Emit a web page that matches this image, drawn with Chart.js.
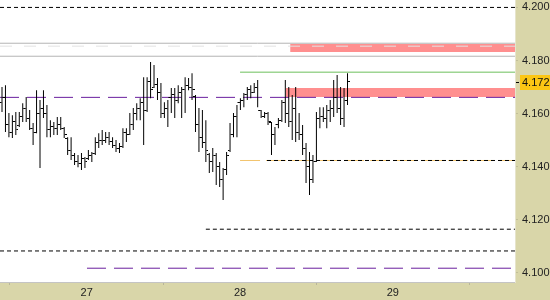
<!DOCTYPE html>
<html>
<head>
<meta charset="utf-8">
<script src="https://cdn.jsdelivr.net/npm/chart.js@4.4.1/dist/chart.umd.min.js"></script>
<style>
  html, body { margin: 0; padding: 0; background: #d9d6a9; }
  #wrap { width: 550px; height: 300px; }
</style>
</head>
<body>
<div id="wrap"><canvas id="chart" width="550" height="300"></canvas></div>
<script>
// ---- bar data (one bar per slot, index = slot) ----
const highs = [4.1700, 4.1707, 4.1602, 4.1594, 4.1606, 4.1606, 4.1639, 4.1662, 4.1613, 4.1564,
               4.1688, 4.1651, 4.1688, 4.1632, 4.1575, 4.1568, 4.1587, 4.1587, 4.1549, 4.1511,
               4.1511, 4.1451, 4.1444, 4.1451, 4.1436, 4.1463, 4.1455, 4.1511, 4.1526, 4.1538,
               4.1530, 4.1530, 4.1511, 4.1500, 4.1489, 4.1545, 4.1545, 4.1602, 4.1621, 4.1639,
               4.1658, 4.1737, 4.1737, 4.1794, 4.1783, 4.1734, 4.1715, 4.1643, 4.1651, 4.1696,
               4.1696, 4.1707, 4.1700, 4.1737, 4.1734, 4.1752, 4.1670, 4.1621, 4.1613, 4.1575,
               4.1451, 4.1470, 4.1451, 4.1417, 4.1395, 4.1455, 4.1564, 4.1602, 4.1632, 4.1658,
               4.1677, 4.1700, 4.1707, 4.1715, 4.1726, 4.1613, 4.1606, 4.1606, 4.1568, 4.1549,
               4.1583, 4.1651, 4.1726, 4.1700, 4.1670, 4.1700, 4.1602, 4.1557, 4.1489, 4.1455,
               4.1444, 4.1606, 4.1624, 4.1624, 4.1632, 4.1651, 4.1726, 4.1745, 4.1700, 4.1696,
               4.1752];
const lows  = [4.1606, 4.1530, 4.1511, 4.1508, 4.1519, 4.1549, 4.1568, 4.1568, 4.1538, 4.1481,
               4.1526, 4.1395, 4.1583, 4.1511, 4.1511, 4.1519, 4.1519, 4.1538, 4.1508, 4.1444,
               4.1425, 4.1406, 4.1398, 4.1387, 4.1395, 4.1425, 4.1417, 4.1444, 4.1470, 4.1481,
               4.1489, 4.1481, 4.1470, 4.1455, 4.1451, 4.1470, 4.1493, 4.1519, 4.1538, 4.1575,
               4.1575, 4.1481, 4.1606, 4.1658, 4.1696, 4.1651, 4.1583, 4.1583, 4.1549, 4.1602,
               4.1583, 4.1639, 4.1583, 4.1602, 4.1688, 4.1651, 4.1530, 4.1455, 4.1470, 4.1417,
               4.1376, 4.1380, 4.1331, 4.1323, 4.1274, 4.1368, 4.1455, 4.1511, 4.1511, 4.1613,
               4.1624, 4.1651, 4.1658, 4.1677, 4.1624, 4.1583, 4.1583, 4.1557, 4.1444, 4.1481,
               4.1545, 4.1568, 4.1564, 4.1549, 4.1500, 4.1493, 4.1500, 4.1444, 4.1338, 4.1293,
               4.1338, 4.1417, 4.1545, 4.1568, 4.1545, 4.1568, 4.1587, 4.1602, 4.1557, 4.1549,
               4.1632];
const opens = [4.1640, 4.1660, 4.1560, 4.1530, 4.1570, 4.1555, 4.1590, 4.1620, 4.1580, 4.1545,
               4.1530, 4.1600, 4.1620, 4.1600, 4.1540, 4.1550, 4.1545, 4.1560, 4.1545, 4.1505,
               4.1460, 4.1440, 4.1420, 4.1410, 4.1430, 4.1430, 4.1440, 4.1450, 4.1490, 4.1500,
               4.1500, 4.1510, 4.1495, 4.1480, 4.1470, 4.1475, 4.1530, 4.1520, 4.1560, 4.1600,
               4.1620, 4.1640, 4.1610, 4.1720, 4.1700, 4.1710, 4.1680, 4.1600, 4.1620, 4.1660,
               4.1670, 4.1650, 4.1680, 4.1690, 4.1705, 4.1700, 4.1665, 4.1560, 4.1510, 4.1490,
               4.1445, 4.1420, 4.1440, 4.1400, 4.1350, 4.1390, 4.1460, 4.1520, 4.1590, 4.1640,
               4.1650, 4.1670, 4.1690, 4.1680, 4.1700, 4.1610, 4.1590, 4.1600, 4.1565, 4.1520,
               4.1560, 4.1575, 4.1640, 4.1600, 4.1570, 4.1620, 4.1530, 4.1520, 4.1470, 4.1400,
               4.1350, 4.1420, 4.1580, 4.1590, 4.1580, 4.1610, 4.1620, 4.1660, 4.1620, 4.1580,
               4.1650];
const closes = [4.1660, 4.1560, 4.1530, 4.1570, 4.1540, 4.1590, 4.1620, 4.1580, 4.1545, 4.1530,
                4.1600, 4.1620, 4.1600, 4.1540, 4.1550, 4.1545, 4.1560, 4.1545, 4.1520, 4.1460,
                4.1440, 4.1420, 4.1410, 4.1430, 4.1420, 4.1440, 4.1450, 4.1490, 4.1500, 4.1500,
                4.1510, 4.1495, 4.1480, 4.1470, 4.1475, 4.1530, 4.1520, 4.1560, 4.1600, 4.1620,
                4.1640, 4.1610, 4.1720, 4.1690, 4.1710, 4.1680, 4.1600, 4.1620, 4.1660, 4.1670,
                4.1650, 4.1680, 4.1690, 4.1705, 4.1700, 4.1690, 4.1560, 4.1510, 4.1490, 4.1460,
                4.1420, 4.1440, 4.1400, 4.1350, 4.1390, 4.1440, 4.1520, 4.1590, 4.1640, 4.1650,
                4.1670, 4.1690, 4.1680, 4.1700, 4.1610, 4.1590, 4.1600, 4.1570, 4.1520, 4.1560,
                4.1575, 4.1640, 4.1600, 4.1570, 4.1620, 4.1530, 4.1520, 4.1470, 4.1400, 4.1350,
                4.1420, 4.1580, 4.1590, 4.1580, 4.1610, 4.1620, 4.1660, 4.1620, 4.1580, 4.1650,
                4.1720];

// ---- axes ----
const dayTicks = [24.5, 68.9, 113.1];
const dayLabels = ['27', '28', '29'];
const priceTicks = [4.100, 4.120, 4.140, 4.160, 4.180, 4.200];

// ---- horizontal levels (start slot, null = from left edge) ----
// earlier entries are painted on top of later ones
const levelNames  = ['top', 'grayDash', 'grayHi', 'grayLo', 'green', 'purpleMid', 'blackMid', 'orange', 'black1', 'black2', 'purpleLow'];
const levelPrices = [4.2000, 4.1854, 4.1865, 4.1816, 4.1756, 4.1661, 4.1423, 4.1423, 4.1164, 4.1082, 4.1017];
const levelStarts = [null, null, null, null, 68.9, null, 76.7, 68.9, 59.0, null, 24.6];

// ---- shaded zones ----
const zoneTops    = [4.1862, 4.1696];
const zoneBottoms = [4.1832, 4.1662];
const zoneStarts  = [83.4, 82.2];

const X_MIN = -0.58;
const X_MAX = 148.48;

const levelStyles = {
    top:       { color: '#000000', dash: [4, 3] },
    grayHi:    { color: '#b4b4b4', dash: [] },
    grayDash:  { color: '#e2e2e2', dash: [12, 12] },
    grayLo:    { color: '#b4b4b4', dash: [] },
    green:     { color: '#6cbf5c', dash: [] },
    purpleMid: { color: '#6a1f9e', dash: [19, 8] },
    orange:    { color: '#f2c46e', dash: [20, 6] },
    blackMid:  { color: '#000000', dash: [4, 3] },
    black1:    { color: '#000000', dash: [4, 3] },
    black2:    { color: '#000000', dash: [4, 3] },
    purpleLow: { color: '#6a1f9e', dash: [19, 8] }
};

function tickImage(side) {
    const c = document.createElement('canvas');
    c.width = 5;
    c.height = 1;
    const g = c.getContext('2d');
    g.fillStyle = '#000';
    g.fillRect(side === 'open' ? 0 : 3, 0, 2, 1);
    return c;
}

// drop the automatic label overhang padding so the plot fills the canvas
function noPadding(scale) {
    scale.paddingTop = 0;
    scale.paddingBottom = 0;
    scale.paddingLeft = 0;
    scale.paddingRight = 0;
}

const datasets = [];

// zones (fill between a top and bottom line)
zoneTops.forEach((top, i) => {
    datasets.push({
        type: 'line', order: 3,
        data: [{ x: zoneStarts[i], y: top }, { x: X_MAX, y: top }],
        borderWidth: 0, pointRadius: 0, fill: false
    });
    datasets.push({
        type: 'line', order: 3,
        data: [{ x: zoneStarts[i], y: zoneBottoms[i] }, { x: X_MAX, y: zoneBottoms[i] }],
        borderWidth: 0, pointRadius: 0,
        fill: '-1', backgroundColor: '#ff8f8f'
    });
});

// levels
levelPrices.forEach((p, i) => {
    const st = levelStyles[levelNames[i]];
    const start = levelStarts[i] === null ? X_MIN : levelStarts[i];
    datasets.push({
        type: 'line', order: 2,
        data: [{ x: start, y: p }, { x: X_MAX, y: p }],
        borderColor: st.color, borderDash: st.dash, borderWidth: 1,
        pointRadius: 0, fill: false
    });
});

// high-low bars
datasets.push({
    type: 'bar', order: 1,
    data: highs.map((h, i) => ({ x: i, y: [lows[i], h] })),
    backgroundColor: '#000000', borderWidth: 0,
    barThickness: 1, inflateAmount: 0
});

// open / close ticks
datasets.push({
    type: 'line', order: 0, showLine: false,
    data: opens.map((o, i) => ({ x: i, y: o })),
    pointStyle: tickImage('open'), pointRadius: 3
});
datasets.push({
    type: 'line', order: 0, showLine: false,
    data: closes.map((c, i) => ({ x: i, y: c })),
    pointStyle: tickImage('close'), pointRadius: 3
});

const backgroundPlugin = {
    id: 'panelBackground',
    beforeDraw(chart) {
        const { ctx, chartArea } = chart;
        ctx.save();
        ctx.fillStyle = '#d9d6a9';
        ctx.fillRect(0, 0, chart.width, chart.height);
        ctx.fillStyle = '#ffffff';
        ctx.fillRect(chartArea.left, chartArea.top, chartArea.right - chartArea.left, chartArea.bottom - chartArea.top);
        ctx.restore();
    }
};

const lastPricePlugin = {
    id: 'lastPrice',
    afterDraw(chart) {
        const { ctx, chartArea } = chart;
        const last = closes[closes.length - 1];
        const y = Math.round(chart.scales.y.getPixelForValue(last)) + 0.5;
        ctx.save();
        ctx.strokeStyle = '#000';
        ctx.beginPath();
        ctx.moveTo(chartArea.right + 1, y);
        ctx.lineTo(chartArea.right + 4, y);
        ctx.stroke();
        ctx.fillStyle = '#fcc614';
        ctx.fillRect(chartArea.right + 5, y - 7.5, 30, 15);
        ctx.fillStyle = '#111';
        ctx.font = '11px "Liberation Sans"';
        ctx.textBaseline = 'middle';
        ctx.fillText(last.toFixed(3), chartArea.right + 7, y + 0.5);
        ctx.restore();
    }
};

new Chart(document.getElementById('chart'), {
    type: 'bar',
    data: { datasets: datasets },
    options: {
        responsive: false,
        animation: false,
        events: [],
        layout: { padding: 0, autoPadding: false },
        plugins: {
            legend: { display: false },
            tooltip: { enabled: false }
        },
        scales: {
            x: {
                type: 'linear',
                min: X_MIN,
                max: X_MAX,
                offset: false,
                afterBuildTicks: scale => { scale.ticks = dayTicks.map(v => ({ value: v })); },
                afterFit: scale => { scale.height = 18; noPadding(scale); },
                ticks: {
                    autoSkip: false,
                    maxRotation: 0,
                    padding: 1,
                    color: '#222',
                    font: { family: 'Liberation Sans', size: 11 },
                    callback: (v, i) => dayLabels[i]
                },
                grid: { display: true, drawOnChartArea: false, tickLength: 3, color: '#b8b59a' },
                border: { display: true, color: '#c4c4c4' }
            },
            y: {
                position: 'right',
                min: 4.0965,
                max: 4.2028,
                afterBuildTicks: scale => { scale.ticks = priceTicks.map(v => ({ value: v })); },
                afterFit: scale => { scale.width = 35; noPadding(scale); },
                ticks: {
                    padding: 4,
                    color: '#222',
                    font: { family: 'Liberation Sans', size: 11 },
                    callback: v => v.toFixed(3)
                },
                grid: { display: true, drawOnChartArea: false, tickLength: 3, color: '#c2bf98' },
                border: { display: true, color: '#e6e4cc' }
            }
        }
    },
    plugins: [backgroundPlugin, lastPricePlugin]
});
</script>
</body>
</html>
